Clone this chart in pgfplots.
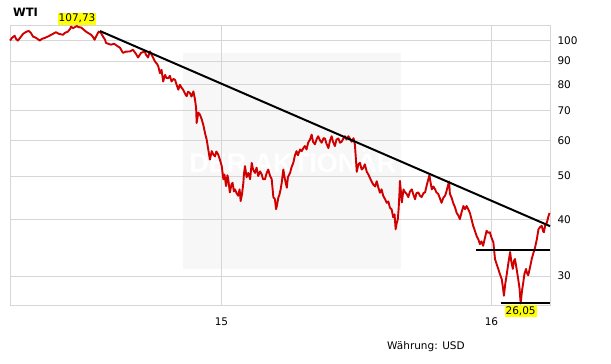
\documentclass[border=0pt]{standalone}
\usepackage{pgfplots}
\pgfplotsset{compat=1.18}
\usepackage{pgfplotstable}
\usepackage{fontspec}
\setmainfont{DejaVu Sans}
\newfontfamily\wmfont{Liberation Sans}
\definecolor{wtired}{RGB}{208,0,0}
\definecolor{gridgray}{RGB}{214,214,214}
\definecolor{wmgray}{RGB}{247,247,247}
\definecolor{hlyellow}{RGB}{255,255,0}

\pgfplotstableread{
x y
14.217 100.0
14.224 101.4
14.234 102.5
14.239 100.9
14.246 100.0
14.254 101.4
14.265 103.5
14.276 104.5
14.286 105.1
14.294 104.0
14.302 102.1
14.313 101.4
14.327 100.0
14.335 100.9
14.345 101.3
14.354 101.9
14.364 102.6
14.376 103.5
14.387 104.4
14.398 103.5
14.413 103.0
14.420 104.0
14.431 104.7
14.439 106.1
14.443 107.4
14.450 106.6
14.465 107.73
14.469 107.2
14.480 106.9
14.487 106.1
14.498 104.7
14.506 104.0
14.517 103.0
14.524 101.9
14.530 100.4
14.535 101.9
14.545 104.7
14.554 104.0
14.561 102.1
14.569 100.4
14.572 98.8
14.580 98.4
14.591 97.9
14.602 98.4
14.617 97.0
14.624 96.4
14.635 93.9
14.646 94.5
14.661 94.6
14.672 95.4
14.683 93.5
14.691 91.7
14.702 93.9
14.716 94.6
14.720 93.1
14.728 91.7
14.735 94.6
14.743 92.6
14.754 89.8
14.761 88.8
14.766 87.6
14.772 84.6
14.778 86.1
14.784 81.1
14.791 83.9
14.796 82.6
14.803 82.5
14.809 83.5
14.815 81.1
14.822 82.2
14.828 81.8
14.835 79.4
14.840 77.8
14.846 79.8
14.852 78.6
14.858 77.8
14.865 76.2
14.871 75.2
14.876 77.0
14.883 76.5
14.889 75.1
14.896 77.1
14.902 73.9
14.906 70.9
14.908 65.6
14.914 69.2
14.920 68.5
14.927 66.8
14.933 64.8
14.939 62.3
14.945 60.3
14.951 57.3
14.957 54.4
14.964 56.8
14.970 55.8
14.976 55.3
14.981 56.7
14.988 55.8
14.994 54.4
15.001 52.6
15.007 49.2
15.011 50.4
15.017 47.5
15.022 50.2
15.025 49.2
15.031 46.0
15.037 47.9
15.041 48.3
15.046 46.2
15.050 46.7
15.056 45.8
15.062 45.2
15.067 46.7
15.071 44.0
15.076 45.6
15.081 48.3
15.083 50.4
15.087 52.6
15.093 49.7
15.099 50.8
15.106 49.2
15.112 53.5
15.117 51.7
15.124 50.8
15.130 52.2
15.136 50.0
15.143 51.2
15.149 50.4
15.154 49.2
15.161 49.2
15.167 50.7
15.173 51.7
15.180 50.0
15.186 49.2
15.192 44.9
15.198 44.4
15.202 42.2
15.205 42.9
15.211 44.9
15.214 45.3
15.219 46.7
15.223 48.3
15.229 51.7
15.235 49.2
15.242 47.1
15.246 49.7
15.254 50.8
15.259 52.2
15.266 53.5
15.272 55.6
15.278 56.8
15.283 55.6
15.291 57.3
15.297 56.8
15.304 57.8
15.309 58.3
15.315 57.3
15.321 59.3
15.328 60.3
15.334 61.8
15.339 59.6
15.346 58.8
15.352 60.3
15.358 61.3
15.365 60.0
15.371 59.3
15.378 60.7
15.383 60.6
15.389 59.0
15.396 57.7
15.402 60.0
15.408 61.3
15.413 59.6
15.420 58.3
15.426 60.3
15.433 60.6
15.439 59.3
15.445 59.6
15.452 60.7
15.457 61.3
15.463 60.3
15.470 61.3
15.476 60.5
15.482 59.6
15.489 60.7
15.494 58.8
15.498 54.4
15.501 51.1
15.507 53.1
15.513 53.5
15.519 51.7
15.525 52.1
15.531 53.1
15.538 51.1
15.544 50.4
15.550 49.5
15.556 48.6
15.562 47.9
15.569 47.4
15.575 48.7
15.581 47.1
15.587 45.9
15.593 46.7
15.599 45.2
15.606 44.4
15.612 43.6
15.618 43.9
15.624 42.5
15.630 42.2
15.636 40.5
15.641 41.1
15.645 38.1
15.649 39.3
15.653 40.1
15.656 42.2
15.659 45.6
15.661 48.8
15.668 43.7
15.674 46.7
15.680 46.0
15.686 45.6
15.692 44.9
15.698 46.2
15.705 46.7
15.711 45.4
15.717 44.4
15.722 45.8
15.729 46.0
15.735 45.2
15.741 44.9
15.748 45.8
15.754 46.0
15.761 47.9
15.770 50.2
15.774 48.5
15.779 46.7
15.785 47.4
15.791 46.7
15.796 46.0
15.803 45.6
15.809 44.6
15.815 43.6
15.822 44.8
15.828 45.2
15.833 46.2
15.840 47.9
15.843 48.6
15.846 45.6
15.852 44.8
15.858 43.6
15.865 42.6
15.871 41.4
15.877 40.9
15.883 40.1
15.889 41.5
15.896 42.9
15.902 42.2
15.908 42.9
15.914 42.2
15.920 41.4
15.926 40.1
15.932 38.8
15.939 37.7
15.945 36.8
15.951 36.2
15.957 35.3
15.963 35.8
15.969 35.0
15.976 36.5
15.982 37.8
15.988 37.4
15.994 37.5
16.000 36.5
16.007 35.6
16.013 32.7
16.019 31.9
16.025 31.1
16.031 30.3
16.038 29.5
16.043 28.1
16.046 27.1
16.051 28.8
16.056 30.1
16.062 31.9
16.069 33.9
16.073 32.4
16.079 31.1
16.083 32.4
16.087 32.7
16.093 31.1
16.099 29.5
16.104 28.1
16.108 26.05
16.113 27.8
16.118 29.1
16.122 30.3
16.128 31.1
16.131 30.5
16.136 30.1
16.143 31.4
16.149 32.7
16.155 33.7
16.161 34.6
16.168 36.2
16.174 38.1
16.180 38.5
16.186 38.8
16.191 37.7
16.194 37.5
16.199 38.9
16.205 39.4
16.211 40.7
16.215 41.4
}\wtidata

\pgfplotstableread{
x y
14.550 105.0
16.217 38.7
}\trenddata

\pgfplotstableread{
x y
15.943 34.3
16.217 34.3
}\supportA

\pgfplotstableread{
x y
16.034 26.05
16.217 26.05
}\supportB

\begin{document}
\begin{tikzpicture}
\begin{axis}[
  set layers,
  at={(10bp,59bp)}, anchor=south west,
  scale only axis, width=540bp, height=280bp,
  ymode=log,
  xmin=14.2167, xmax=16.2167,
  ymin=25.85, ymax=108.3,
  clip=false,
  axis line style={draw=gridgray, line width=0.8bp},
  xtick={15,16}, xticklabels={15,16},
  ytick={30,40,50,60,70,80,90,100},
  yticklabels={30,40,50,60,70,80,90,100},
  minor ytick={},
  major tick length=0pt, minor tick length=0pt,
  grid=major,
  major grid style={draw=gridgray, line width=0.8bp},
  yticklabel pos=right,
  ticklabel style={font=\fontsize{10.5bp}{12bp}\selectfont, text=black},
  yticklabel style={anchor=west, inner xsep=0pt, xshift=7.3bp},
  xticklabel style={anchor=base, yshift=-20.3bp},
  /pgf/number format/assume math mode=true,
]
\begin{pgfonlayer}{axis background}
\fill[wmgray] (rel axis cs:0.3204,0.1286) rectangle (rel axis cs:0.7241,0.9);
\node[text=white, font=\wmfont\bfseries\fontsize{27bp}{30bp}\selectfont] at (rel axis cs:0.524,0.514) {DER AKTIONÄR};
\end{pgfonlayer}
\addplot[wtired, line width=1.9bp, line join=round] table[x=x,y=y] {\wtidata};
\addplot[black, line width=2bp] table[x=x,y=y] {\trenddata};
\addplot[black, line width=2bp] table[x=x,y=y] {\supportA};
\addplot[black, line width=2bp] table[x=x,y=y] {\supportB};
\node[fill=hlyellow, anchor=south, inner xsep=1bp, inner ysep=1.2bp, text height=8bp, text depth=1.6bp, font=\fontsize{10.5bp}{12bp}\selectfont] at (axis cs:14.465,108.3) {107,73};
\node[fill=hlyellow, anchor=north, inner xsep=1bp, inner ysep=1.2bp, text height=8bp, text depth=1.6bp, font=\fontsize{10.5bp}{12bp}\selectfont] at (axis cs:16.108,25.85) {26,05};
\end{axis}
\node[anchor=base west, inner sep=0pt, font=\bfseries\fontsize{11.5bp}{13bp}\selectfont] at (13bp,347.3bp) {WTI};
\node[anchor=west, inner sep=0pt, font=\fontsize{10.5bp}{12bp}\selectfont] at (387bp,17bp) {Währung: USD};
\pgfresetboundingbox
\path[use as bounding box] (0,0) rectangle (611bp,364bp);
\end{tikzpicture}
\end{document}
